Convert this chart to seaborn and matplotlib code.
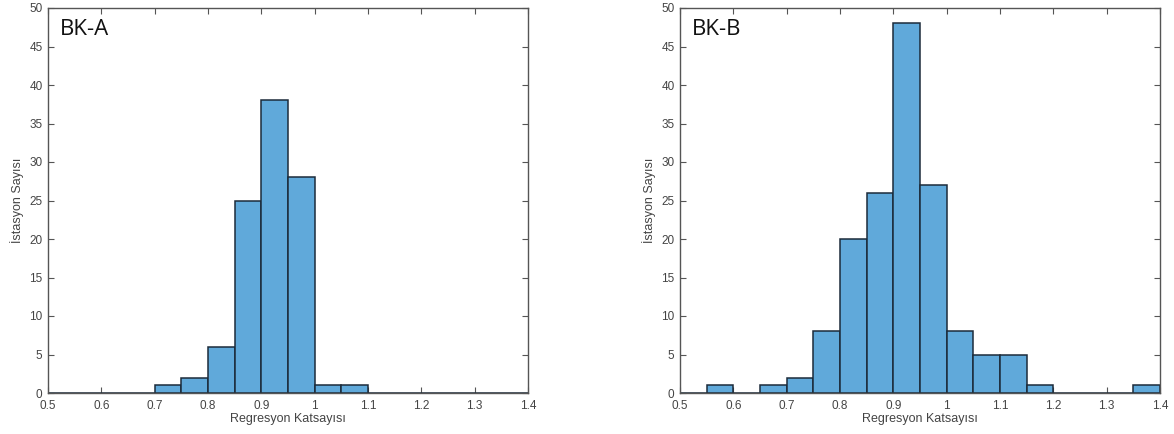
import numpy as np
import pandas as pd
import matplotlib
matplotlib.use("Agg")
import matplotlib.pyplot as plt
import seaborn as sns

# Data: bin centers and counts (bin width 0.05)
bin_centers = [0.525, 0.575, 0.625, 0.675, 0.725, 0.775, 0.825, 0.875, 0.925,
               0.975, 1.025, 1.075, 1.125, 1.175, 1.225, 1.275, 1.325, 1.375]

counts_a = [0, 0, 0, 0, 1, 2, 6, 25, 38, 28, 1, 1, 0, 0, 0, 0, 0, 0]
counts_b = [0, 1, 0, 1, 2, 8, 20, 26, 48, 27, 8, 5, 5, 1, 0, 0, 0, 1]

panel_titles = ["BK-A", "BK-B"]
x_ticks = [0.5, 0.6, 0.7, 0.8, 0.9, 1.0, 1.1, 1.2, 1.3, 1.4]
x_tick_labels = ["0.5", "0.6", "0.7", "0.8", "0.9", "1", "1.1", "1.2", "1.3", "1.4"]
y_ticks = [0, 5, 10, 15, 20, 25, 30, 35, 40, 45, 50]
x_label = "Regresyon Katsayısı"
y_label = "İstasyon Sayısı"

sns.set_theme(style="white")
plt.rcParams['font.family'] = ['Liberation Sans', 'DejaVu Sans']

fig = plt.figure(figsize=(11.74, 4.34), dpi=100)
ax_positions = [
    [48 / 1174, 1 - 393 / 434, 480 / 1174, 385 / 434],
    [680 / 1174, 1 - 393 / 434, 480 / 1174, 385 / 434],
]

bar_color = "#60a9da"
edge_color = "#1c2b3a"
frame_color = "#555555"
text_color = "#444444"

for pos, counts, title in zip(ax_positions, [counts_a, counts_b], panel_titles):
    ax = fig.add_axes(pos)
    df = pd.DataFrame({"x": bin_centers, "w": counts})
    df = df[df["w"] > 0]
    sns.histplot(data=df, x="x", weights="w", binwidth=0.05,
                 binrange=(0.5, 1.4), ax=ax,
                 color=bar_color, edgecolor=edge_color, linewidth=1.1,
                 alpha=1.0)
    ax.set_xlim(0.5, 1.4)
    ax.set_ylim(0, 50)
    ax.set_xticks(x_ticks)
    ax.set_xticklabels(x_tick_labels)
    ax.set_yticks(y_ticks)
    ax.tick_params(axis="both", which="both", direction="in", length=4,
                   width=0.8, color=frame_color, labelsize=8.5,
                   labelcolor=text_color, top=True, right=True,
                   bottom=True, left=True)
    ax.tick_params(axis="x", pad=5)
    ax.tick_params(axis="y", pad=4)
    for sp in ax.spines.values():
        sp.set_visible(True)
        sp.set_color(frame_color)
        sp.set_linewidth(1.0)
    ax.set_xlabel(x_label, fontsize=9, color=text_color, labelpad=1)
    ax.set_ylabel(y_label, fontsize=9, color=text_color, labelpad=4,
                  family=['Liberation Sans Narrow', 'Liberation Sans', 'DejaVu Sans'])
    ax.text(0.025, 0.945, title, transform=ax.transAxes, fontsize=16,
            color="#111111", va="center", ha="left",
            family=['Open Sans', 'DejaVu Sans'])
    ax.grid(False)

fig.savefig("out.png", dpi=100, facecolor="white")
